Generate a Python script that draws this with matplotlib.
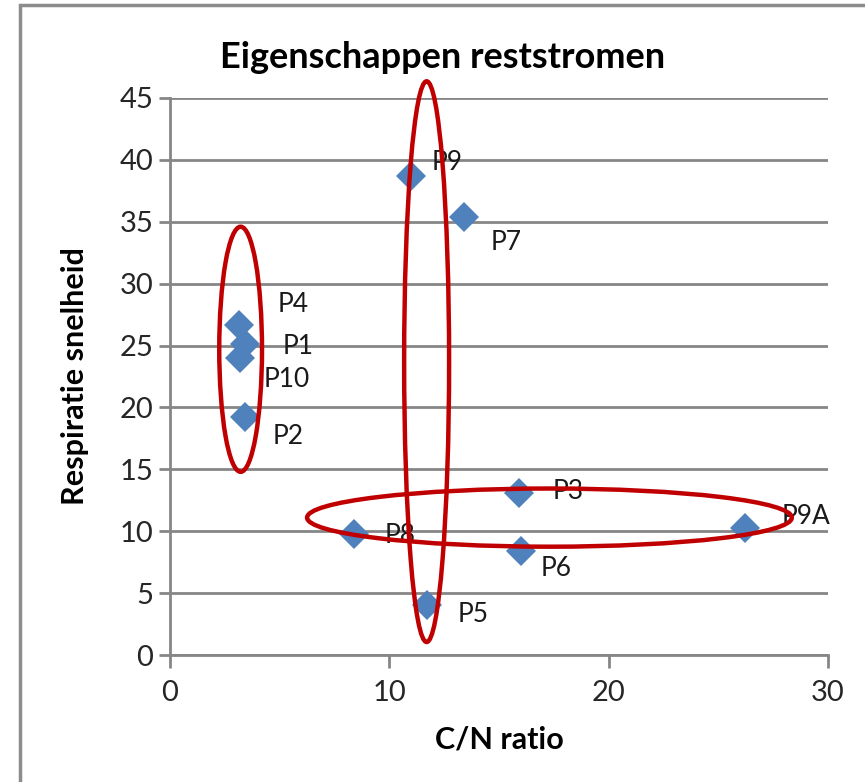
import matplotlib.pyplot as plt
from matplotlib.patches import Ellipse, Rectangle

plt.rcParams['font.family'] = ['Lato', 'DejaVu Sans']

# data
labels = ['P9', 'P7', 'P4', 'P1', 'P10', 'P2', 'P3', 'P9A', 'P8', 'P6', 'P5']
cn_ratio = [11.0, 13.4, 3.15, 3.4, 3.2, 3.4, 15.9, 26.2, 8.4, 16.0, 11.7]
respiratie = [38.7, 35.4, 26.7, 25.1, 24.0, 19.2, 13.1, 10.3, 9.8, 8.4, 4.0]

# label offsets (pixels) like Excel placed them
lab_dx = [20, 27, 39, 38, 23, 28, 34, 37, 30, 20, 31]
lab_dy = [13, -26, 20, -2, -22, -19, 1, 11, -2, -17, -9]

# red groupings drawn over the chart: (x, y, width, height)
groups = [(3.22, 24.7, 1.95, 19.8),
          (11.7, 23.7, 2.05, 45.3),
          (17.3, 11.1, 22.1, 4.7)]

blue = '#4F81BD'
red = '#C00000'
grey = '#868686'

fig = plt.figure(figsize=(8.65, 7.82), dpi=100)
ax = fig.add_axes([170/865, 1-655/782, (828-170)/865, (655-98)/782])

ax.plot(cn_ratio, respiratie, linestyle='none', marker='D', markersize=15,
        color=blue, markeredgewidth=0, zorder=3)

for lab, x, y, dx, dy in zip(labels, cn_ratio, respiratie, lab_dx, lab_dy):
    ax.annotate(lab, (x, y), xytext=(dx, dy), textcoords='offset pixels',
                ha='left', va='center', fontsize=19, color='#1a1a1a', zorder=4)

for gx, gy, gw, gh in groups:
    ax.add_patch(Ellipse((gx, gy), gw, gh, fill=False, edgecolor=red,
                         linewidth=3.2, clip_on=False, zorder=5))

ax.set_xlim(0, 30)
ax.set_ylim(0, 45)
ax.set_xticks([0, 10, 20, 30])
ax.set_yticks(range(0, 46, 5))
ax.yaxis.grid(True, color=grey, linewidth=2)
ax.set_axisbelow(True)
for s in ['top', 'right']:
    ax.spines[s].set_visible(False)
for s in ['left', 'bottom']:
    ax.spines[s].set_color(grey)
    ax.spines[s].set_linewidth(2)
ax.tick_params(axis='x', length=9, width=2, color=grey, labelsize=21, pad=9,
               labelcolor='#262626')
ax.tick_params(axis='y', length=8, width=2, color=grey, labelsize=21, pad=4,
               labelcolor='#262626')

fig.text(443/865, 1-57/782, 'Eigenschappen reststromen', fontsize=26,
         fontweight='bold', ha='center', va='center')
ax.set_xlabel('C/N ratio', fontsize=22, fontweight='bold', labelpad=14)
ax.set_ylabel('Respiratie snelheid', fontsize=22, fontweight='bold', labelpad=22)

# chart area border
fig.patches.append(Rectangle((20/865, -0.1), 1.2, 1.1 - 5/782, transform=fig.transFigure,
                             fill=False, edgecolor='#8c8c8c', linewidth=2.5))

fig.savefig('out.png', dpi=100)
